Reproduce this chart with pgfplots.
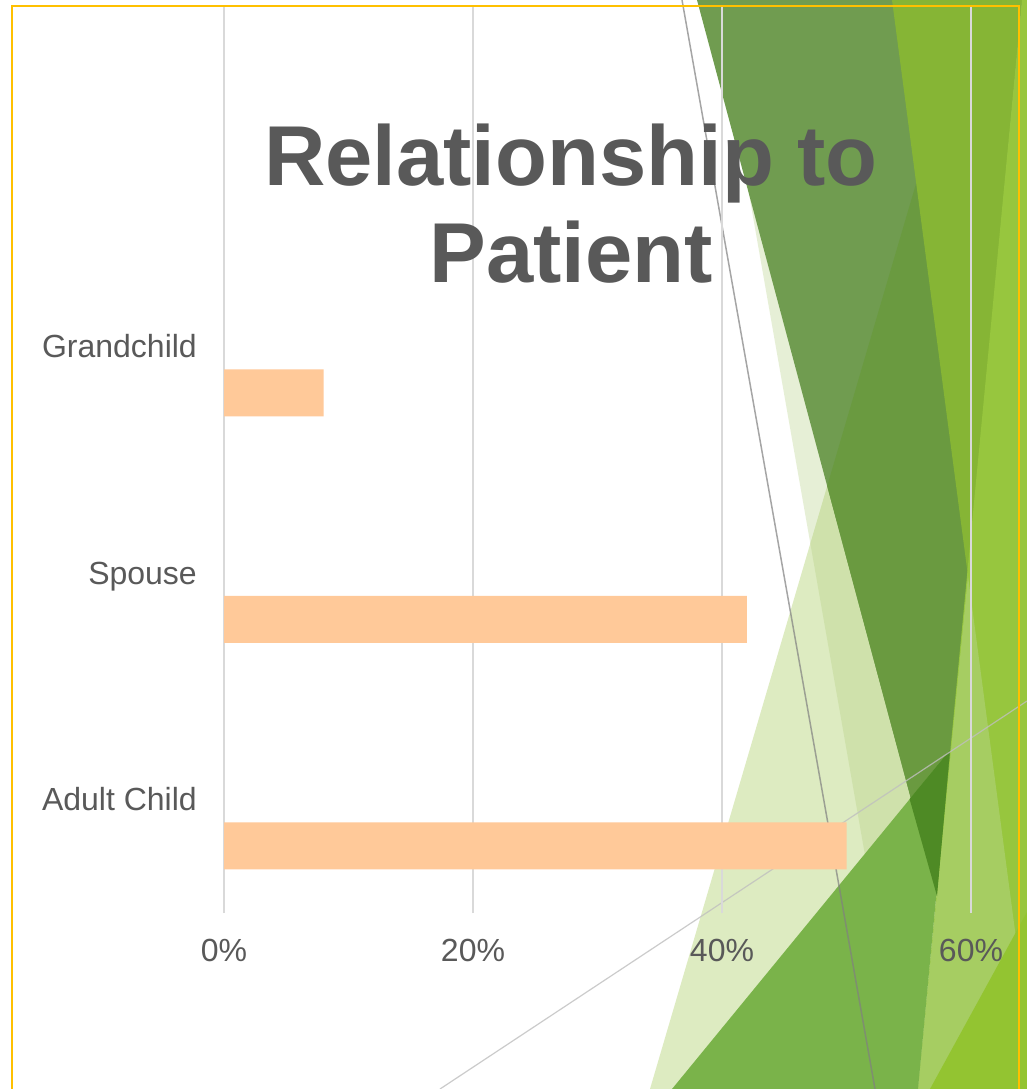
\documentclass[border=0pt]{standalone}
\usepackage{pgfplots}
\pgfplotsset{compat=1.18}
\usepackage{fontspec}
\setmainfont{Liberation Sans}
\definecolor{txt}{HTML}{595959}
\definecolor{barc}{HTML}{FFC999}
\definecolor{gridc}{HTML}{D9D9D9}
\definecolor{gold}{HTML}{FFC000}
\definecolor{sa}{HTML}{AFCD7A}
\definecolor{sb}{HTML}{9EC64E}
\definecolor{dA}{HTML}{709C50}
\definecolor{dB}{HTML}{6A9A40}
\definecolor{rA}{HTML}{86B535}
\definecolor{limeA}{HTML}{97C63E}
\definecolor{limeL}{HTML}{A6CD62}
\definecolor{limeB}{HTML}{93C431}
\definecolor{gA}{HTML}{7AB34A}
\definecolor{gD}{HTML}{4E8A25}
\begin{document}
\begin{tikzpicture}
\useasboundingbox (0,0) rectangle (1027pt,-1089pt);
\clip (0,0) rectangle (1027pt,-1089pt);
\fill[white] (0,0) rectangle (1027pt,-1089pt);
% decorative background shapes (slide theme)
\begin{scope}[x=1pt,y=-1pt]
  \fill[sb, opacity=0.35] (970,0) -- (1100,0) -- (1100,1089) -- (650,1089) -- cycle;
  \fill[sa, opacity=0.3] (715,0) -- (1100,0) -- (1100,1089) -- (906,1089) -- cycle;
  \fill[dA] (697,0) -- (1022,0) -- (937,896) -- cycle;
  \begin{scope}
    \clip (697,0) -- (1022,0) -- (937,896) -- cycle;
    \fill[dB] (970,0) -- (1100,0) -- (1100,1089) -- (650,1089) -- cycle;
  \end{scope}
  \fill[rA] (892,0) -- (1022,0) -- (968,576) -- cycle;
  % lime band right of line (1022,0)-(918,1089)
  \fill[limeA] (1022,0) -- (1100,0) -- (1100,1089) -- (918,1089) -- cycle;
  \fill[limeL] (968,576) -- (1036,1089) -- (918,1089) -- cycle;
  \fill[limeB] (1027,912) -- (1100,860) -- (1100,1089) -- (930,1089) -- cycle;
  % medium green triangle
  \fill[gA] (672,1089) -- (950,750) -- (918,1089) -- cycle;
  \fill[gD] (909.6,799) -- (950,750) -- (937,896) -- cycle;
  % thin lines
  \draw[color=gray, opacity=0.7, line width=1.5pt] (682,0) -- (875,1089);
  \draw[color=gray!50, opacity=0.8, line width=1.2pt] (440,1089) -- (1027,701);
\end{scope}
\begin{axis}[
  at={(224pt,-913pt)}, anchor=south west,
  width=747pt, height=906pt, scale only axis,
  xmin=0, xmax=60, ymin=-0.5, ymax=3.5,
  axis line style={draw=none},
  major tick length=0pt,
  xtick={0,20,40,60},
  xticklabels={0\%,20\%,40\%,60\%},
  ytick={0,1,2},
  yticklabels={Adult Child,Spouse,Grandchild},
  xmajorgrids,
  ymajorgrids=false,
  grid style={color=gridc, line width=1.3pt},
  xticklabel style={font=\fontsize{32}{38}\selectfont, text=txt, anchor=base, yshift=-48pt, inner sep=0pt},
  yticklabel style={font=\fontsize{32}{38}\selectfont, text=txt, anchor=base east, xshift=-27pt, yshift=-11pt, inner sep=0pt},
  clip=false,
]
\addplot[xbar, fill=barc, draw=none, bar width=47pt, bar shift=-46pt] coordinates {(50,0) (42,1) (8,2)};
\end{axis}
\begin{scope}[x=1pt,y=-1pt]
  \node[anchor=base, inner sep=0pt, font=\fontsize{85}{97}\selectfont\bfseries, text=txt] at (571,185) {Relationship to};
  \node[anchor=base, inner sep=0pt, font=\fontsize{85}{97}\selectfont\bfseries, text=txt] at (571,282) {Patient};
  \draw[gold, line width=2.5pt] (12,1100) -- (12,6) -- (1019,6) -- (1019,1100);
\end{scope}
\end{tikzpicture}
\end{document}
